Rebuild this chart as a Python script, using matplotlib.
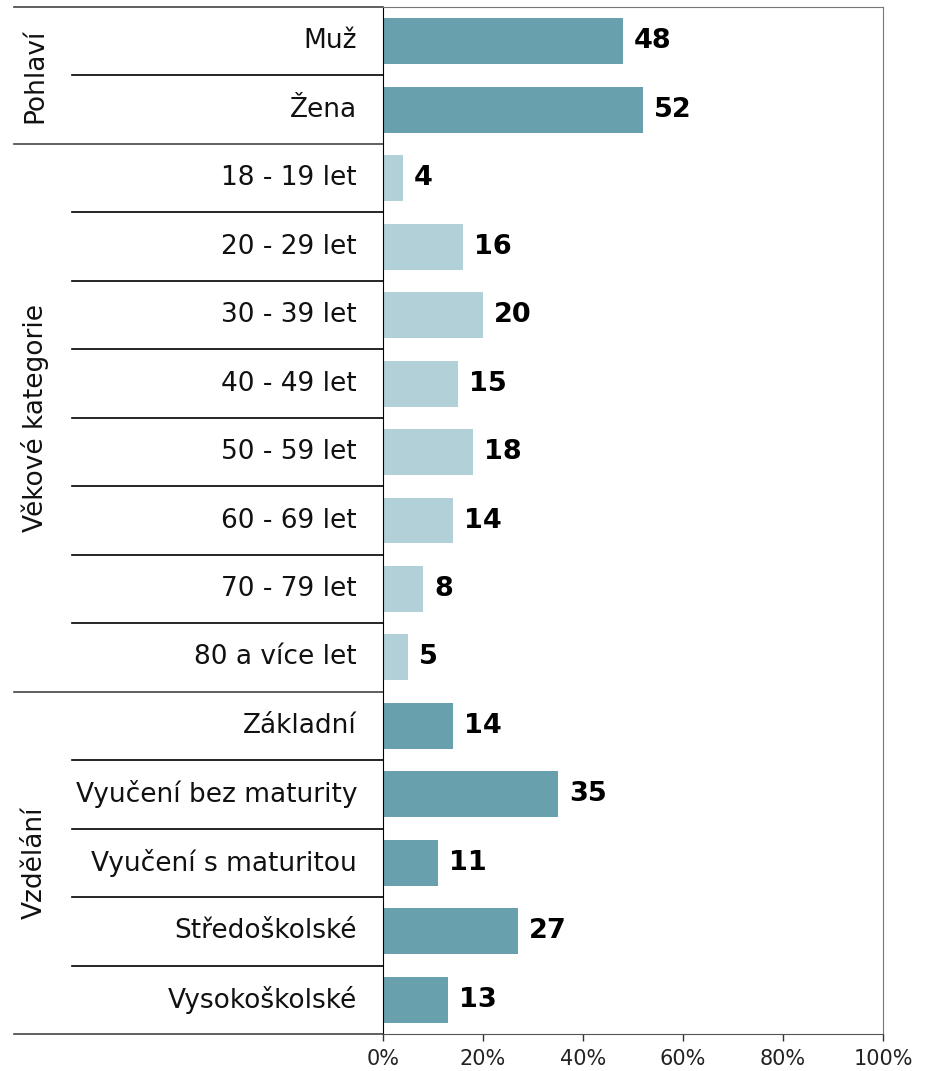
import matplotlib
matplotlib.use("Agg")
import matplotlib.pyplot as plt
from matplotlib.transforms import blended_transform_factory

groups = ["Pohlaví", "Věkové kategorie", "Vzdělání"]
group_sizes = [2, 8, 5]
categories = ["Muž", "Žena",
              "18 - 19 let", "20 - 29 let", "30 - 39 let", "40 - 49 let",
              "50 - 59 let", "60 - 69 let", "70 - 79 let", "80 a více let",
              "Základní", "Vyučení bez maturity", "Vyučení s maturitou",
              "Středoškolské", "Vysokoškolské"]
values = [48, 52, 4, 16, 20, 15, 18, 14, 8, 5, 14, 35, 11, 27, 13]
group_colors = ["#69a0ae", "#b2d0d8", "#69a0ae"]
xticks = [0, 20, 40, 60, 80, 100]

W, H = 930, 1071
fig = plt.figure(figsize=(W / 100, H / 100), dpi=100)
ax = fig.add_axes([383 / W, (H - 1034) / H, 500 / W, 1027 / H])

colors = []
for c, n in zip(group_colors, group_sizes):
    colors += [c] * n

y = list(range(len(categories)))
ax.barh(y, values, height=0.67, color=colors)
ax.set_xlim(0, 100)
ax.set_ylim(len(categories) - 0.5, -0.5)

for yi, v in zip(y, values):
    ax.text(v + 2.2, yi, str(v), va="center", ha="left",
            fontsize=19.5, fontweight="bold", color="black")

ax.set_yticks([])
ax.set_xticks(xticks)
ax.set_xticklabels([f"{t}%" for t in xticks], fontsize=15, color="#222222")
ax.tick_params(axis="x", length=5, width=1, color="#333333", pad=6)

for s in ["top", "right"]:
    ax.spines[s].set_color("#777777")
ax.spines["left"].set_color("black")
ax.spines["bottom"].set_color("#555555")

tr = blended_transform_factory(ax.transAxes, ax.transData)
x_lab = (72 - 383) / 500
x_grp = (14 - 383) / 500

# category labels
for yi, lab in zip(y, categories):
    ax.text((357 - 383) / 500, yi, lab, transform=tr, ha="right", va="center",
            fontsize=19, color="#111111")

bounds = []
start = 0
for n in group_sizes:
    bounds.append((start, start + n))
    start += n
group_edges = {b[0] for b in bounds} | {bounds[-1][1]}

# row separators, longer at group boundaries
for k in range(len(categories) + 1):
    yb = k - 0.5
    if k in group_edges:
        ax.plot([x_grp, 0], [yb, yb], transform=tr, color="#444444",
                lw=1.2, clip_on=False)
    else:
        ax.plot([x_lab, 0], [yb, yb], transform=tr, color="black",
                lw=1.2, clip_on=False)

for g, (a, b) in zip(groups, bounds):
    ax.text((35 - 383) / 500, (a + b - 1) / 2, g, transform=tr, rotation=90,
            ha="center", va="center", fontsize=19, color="#111111")

fig.savefig("out.png", dpi=100)
